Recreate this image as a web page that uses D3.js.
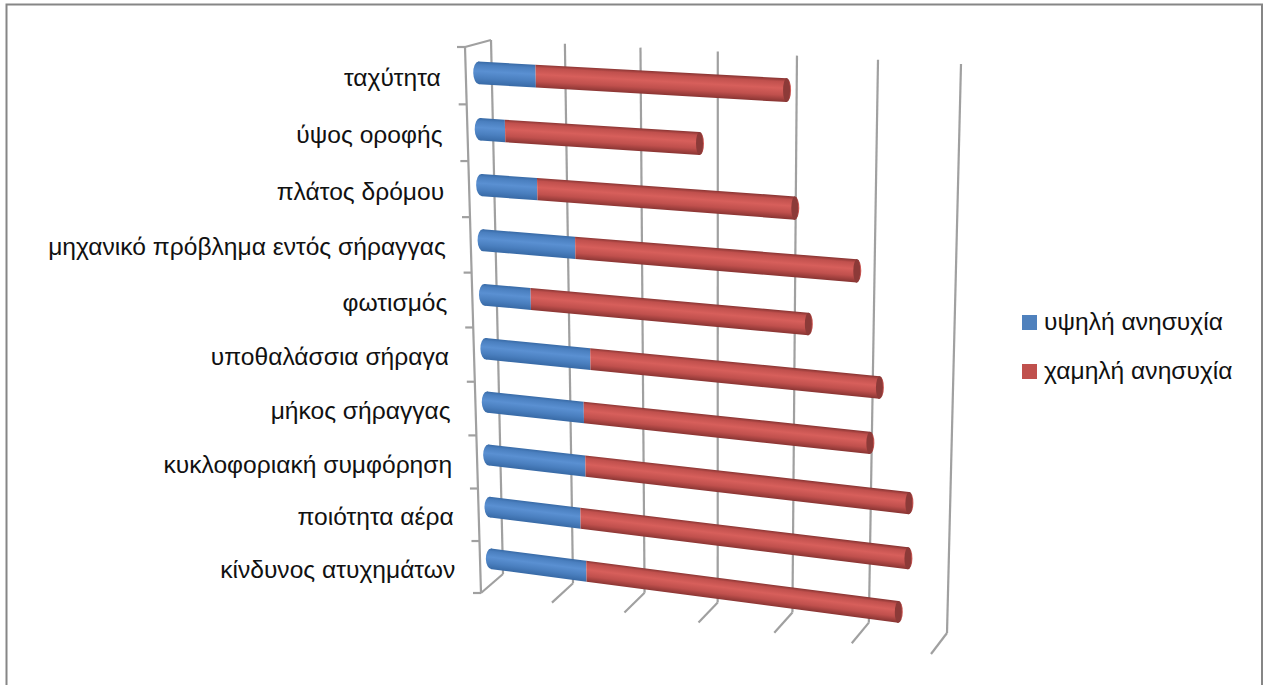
<!DOCTYPE html>
<html lang="el">
<head>
<meta charset="utf-8">
<script src="https://cdnjs.cloudflare.com/ajax/libs/d3/7.8.5/d3.min.js"></script>
<style>
html,body{margin:0;padding:0;background:#fff;overflow:hidden}
text{font-family:"Liberation Sans",sans-serif;fill:#111}
</style>
</head>
<body>
<svg id="chart" width="1267" height="685"></svg>
<script>
// Concern ratings per tunnel factor
const categories = ["ταχύτητα","ύψος οροφής","πλάτος δρόμου","μηχανικό πρόβλημα εντός σήραγγας","φωτισμός","υποθαλάσσια σήραγα","μήκος σήραγγας","κυκλοφοριακή συμφόρηση","ποιότητα αέρα","κίνδυνος ατυχημάτων"];
const highConcern = [7.7,3.4,7.6,12.6,6.4,14.4,13.4,13.5,12.7,13.4];
const lowConcern  = [32.4,25.7,33.6,36.4,36.6,37.6,37.5,42.4,43.2,41.4];
const seriesNames = ["υψηλή ανησυχία","χαμηλή ανησυχία"];
const valueTicks = [0,10,20,30,40,50,60];

const svg = d3.select("#chart");
const defs = svg.append("defs");

// Maps the unit square onto a four-cornered plane in perspective
function planeMap(q){
  const [p0,p1,p2,p3] = q;
  const dx1=p1[0]-p2[0], dx2=p3[0]-p2[0], sx=p0[0]-p1[0]+p2[0]-p3[0];
  const dy1=p1[1]-p2[1], dy2=p3[1]-p2[1], sy=p0[1]-p1[1]+p2[1]-p3[1];
  const den=dx1*dy2-dx2*dy1;
  const g=(sx*dy2-dx2*sy)/den, h=(dx1*sy-sx*dy1)/den;
  const a=p1[0]-p0[0]+g*p1[0], b=p3[0]-p0[0]+h*p3[0], c=p0[0];
  const d=p1[1]-p0[1]+g*p1[1], e=p3[1]-p0[1]+h*p3[1], f=p0[1];
  return (u,v)=>{const w=g*u+h*v+1;return [(a*u+b*v+c)/w,(d*u+e*v+f)/w];};
}

const backCorners  = [[491,40],[961,64],[947,633],[503,574]];
const frontCorners = [[465,47],[941,72],[931,654],[481,593]];
const midCorners = backCorners.map((p,i)=>[(p[0]+frontCorners[i][0])/2,(p[1]+frontCorners[i][1])/2+1]);
const back = planeMap(backCorners), front = planeMap(frontCorners), mid = planeMap(midCorners);

const xU = d3.scaleLinear().domain([0,60]).range([0,1]);
const yV = d3.scaleBand().domain(categories).range([0,1]).paddingInner(0.6).paddingOuter(0.3);
const rowV = d3.scaleLinear().domain([0,categories.length]).range([0,1]);

// Outer chart frame
svg.append("rect").attr("x",6.5).attr("y",4.5).attr("width",1255.5).attr("height",700)
  .attr("fill","#fff").attr("stroke","#868686").attr("stroke-width",2);

const axisColor="#a0a0a0";
const seg=(g,a,b,w=2.2)=>g.append("line").attr("x1",a[0]).attr("y1",a[1]).attr("x2",b[0]).attr("y2",b[1])
  .attr("stroke",axisColor).attr("stroke-width",w);

// Back wall gridlines with their floor stubs
const gridG = svg.append("g");
valueTicks.forEach(t=>{
  const u=xU(t);
  seg(gridG,back(u,0),back(u,1));
  seg(gridG,back(u,1),front(u,1));
});
// Side axis, its link to the wall, and category ticks
seg(gridG,front(0,0),front(0,1));
seg(gridG,front(0,0),back(0,0));
d3.range(categories.length+1).forEach(i=>{
  const p=front(0,rowV(i));
  seg(gridG,p,[p[0]-8,p[1]]);
});

// Shaded cylinder stops
const shades = {
  blue:{edge:"#386aa6",mid:"#4a7fbf",light:"#5a90d2"},
  red:{edge:"#8a3533",mid:"#c0504d",light:"#d75f5b"}
};
// Gradient runs across the bar, square to its axis
function cylinderGradient(id,ua,ub,vT,vB,s){
  const vC=(vT+vB)/2, um=(ua+ub)/2;
  const a=mid(ua,vC), b=mid(ub,vC), c=mid(um,vC), t=mid(um,vT), e=mid(um,vB);
  const len=Math.hypot(b[0]-a[0],b[1]-a[1])||1;
  const nx=-(b[1]-a[1])/len, ny=(b[0]-a[0])/len;
  const half=Math.abs((e[0]-t[0])*nx+(e[1]-t[1])*ny)/2;
  const lg=defs.append("linearGradient").attr("id",id).attr("gradientUnits","userSpaceOnUse")
    .attr("x1",c[0]-nx*half).attr("y1",c[1]-ny*half).attr("x2",c[0]+nx*half).attr("y2",c[1]+ny*half);
  [[0,s.edge],[0.14,s.mid],[0.42,s.light],[0.72,s.mid],[1,s.edge]].forEach(d=>
    lg.append("stop").attr("offset",d[0]).attr("stop-color",d[1]));
}
function cap(g,u,c,fill,vT,vB){
  const t=mid(u,vT), b=mid(u,vB);
  const ry=Math.hypot(b[0]-t[0],b[1]-t[1])/2;
  const ang=Math.atan2(b[1]-t[1],b[0]-t[0])*180/Math.PI-90;
  g.append("ellipse").attr("cx",(t[0]+b[0])/2).attr("cy",(t[1]+b[1])/2)
    .attr("rx",c).attr("ry",ry).attr("transform",`rotate(${ang} ${(t[0]+b[0])/2} ${(t[1]+b[1])/2})`)
    .attr("fill",fill);
}
const barG = svg.append("g");
categories.forEach((name,i)=>{
  const vT=yV(name), vB=vT+yV.bandwidth();
  const u0=xU(0), u1=xU(highConcern[i]), u2=xU(highConcern[i]+lowConcern[i]);
  const g=barG.append("g");
  const band=(ua,ub,id,s)=>{
    cylinderGradient(id,ua,ub,vT,vB,s);
    const pts=[mid(ua,vT),mid(ub,vT),mid(ub,vB),mid(ua,vB)];
    g.append("path").attr("d","M"+pts.join("L")+"Z").attr("fill",`url(#${id})`);
  };
  band(u0,u1,`b${i}`,shades.blue);
  cap(g,u0,5.5,`url(#b${i})`,vT,vB);
  band(u1,u2,`r${i}`,shades.red);
  cap(g,u2,4.5,`url(#r${i})`,vT,vB);
  cap(g,u2,3.5,"#8c3a38",vT,vB);
  // Category label beside the side axis
  const p=front(0,(vT+vB)/2);
  svg.append("text").attr("x",p[0]-25).attr("y",p[1]+4).attr("text-anchor","end")
    .attr("dominant-baseline","middle").style("font-size","24.6px").text(name);
});

// Legend
const legendColors=["#4f81bd","#c0504d"];
seriesNames.forEach((s,i)=>{
  const y=315+i*49;
  svg.append("rect").attr("x",1022).attr("y",y).attr("width",15).attr("height",15).attr("fill",legendColors[i]);
  svg.append("text").attr("x",1044).attr("y",y+8).attr("dominant-baseline","middle")
    .style("font-size","24.6px").text(s);
});
</script>
</body>
</html>
